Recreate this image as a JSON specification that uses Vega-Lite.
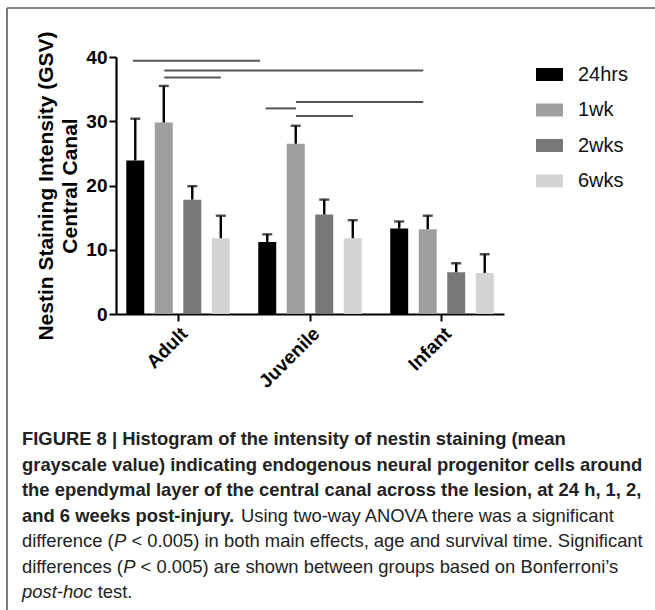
{
  "$schema": "https://vega.github.io/schema/vega-lite/v6.json",
  "width": 388,
  "height": 257,
  "autosize": {"type": "none"},
  "padding": {"left": 116, "top": 57, "right": 151, "bottom": 296},
  "background": "white",
  "config": {"font": "Liberation Sans", "view": {"stroke": null}, "axis": {"grid": false}},
  "datasets": {
    "frame": [{"edge": "frame"}],
    "bars": [
      {"age": "Adult", "time": "24hrs", "mean": 23.9, "upper": 30.4},
      {"age": "Adult", "time": "1wk", "mean": 29.8, "upper": 35.5},
      {"age": "Adult", "time": "2wks", "mean": 17.8, "upper": 19.9},
      {"age": "Adult", "time": "6wks", "mean": 11.8, "upper": 15.3},
      {"age": "Juvenile", "time": "24hrs", "mean": 11.2, "upper": 12.4},
      {"age": "Juvenile", "time": "1wk", "mean": 26.5, "upper": 29.3},
      {"age": "Juvenile", "time": "2wks", "mean": 15.5, "upper": 17.8},
      {"age": "Juvenile", "time": "6wks", "mean": 11.8, "upper": 14.6},
      {"age": "Infant", "time": "24hrs", "mean": 13.3, "upper": 14.4},
      {"age": "Infant", "time": "1wk", "mean": 13.2, "upper": 15.3},
      {"age": "Infant", "time": "2wks", "mean": 6.5, "upper": 7.9},
      {"age": "Infant", "time": "6wks", "mean": 6.4, "upper": 9.3}
    ],
    "sig": [
      {"y": 39.4, "from": -0.342, "to": 0.621},
      {"y": 37.9, "from": -0.104, "to": 1.858},
      {"y": 36.8, "from": -0.104, "to": 0.324},
      {"y": 32.0, "from": 0.664, "to": 0.894},
      {"y": 33.0, "from": 0.894, "to": 1.858},
      {"y": 30.8, "from": 0.894, "to": 1.326}
    ],
    "caption": [
      {"line": 1, "part": "bold", "text": "FIGURE 8 | Histogram of the intensity of nestin staining (mean"},
      {"line": 2, "part": "bold", "text": "grayscale value) indicating endogenous neural progenitor cells around"},
      {"line": 3, "part": "bold", "text": "the ependymal layer of the central canal across the lesion, at 24 h, 1, 2,"},
      {"line": 4, "part": "bold", "text": "and 6 weeks post-injury."},
      {"line": 4, "part": "reg4", "text": "Using two-way ANOVA there was a significant"},
      {"line": 5, "part": "reg0", "text": "difference ("},
      {"line": 5, "part": "p5", "text": "P"},
      {"line": 5, "part": "rest5", "text": "< 0.005) in both main effects, age and survival time. Significant"},
      {"line": 6, "part": "reg0", "text": "differences ("},
      {"line": 6, "part": "p6", "text": "P"},
      {"line": 6, "part": "rest6", "text": "< 0.005) are shown between groups based on Bonferroni’s"},
      {"line": 7, "part": "ital0", "text": "post-hoc"},
      {"line": 7, "part": "test7", "text": "test."}
    ]
  },
  "layer": [
    {
      "data": {"name": "frame"},
      "mark": {"type": "rule", "color": "#5a5a5a", "strokeWidth": 1.6},
      "encoding": {"x": {"value": -109}, "x2": {"value": 539}, "y": {"value": -49}}
    },
    {
      "data": {"name": "frame"},
      "mark": {"type": "rule", "color": "#5a5a5a", "strokeWidth": 1.6},
      "encoding": {"x": {"value": -109}, "y": {"value": -49}, "y2": {"value": 553}}
    },
    {
      "data": {"name": "bars"},
      "encoding": {
        "x": {
          "field": "age", "type": "nominal", "sort": ["Adult", "Juvenile", "Infant"],
          "scale": {"paddingInner": 0.216, "paddingOuter": 0.078},
          "axis": {
            "title": null, "labelAngle": -45, "labelAlign": "right", "labelBaseline": "top",
            "labelFontSize": 19, "labelFontWeight": "bold", "labelColor": "black", "labelPadding": 3,
            "tickSize": 7, "tickWidth": 2, "tickColor": "black", "domainColor": "black", "domainWidth": 2.2
          }
        },
        "xOffset": {
          "field": "time", "type": "nominal", "sort": ["24hrs", "1wk", "2wks", "6wks"],
          "scale": {"paddingInner": 0.37, "paddingOuter": 0}
        }
      },
      "layer": [
        {
          "mark": {"type": "bar"},
          "encoding": {
            "y": {
              "field": "mean", "type": "quantitative", "title": ["Nestin Staining Intensity (GSV)", "Central Canal"],
              "scale": {"domain": [0, 40]},
              "axis": {
                "values": [0, 10, 20, 30, 40],
                "titleFontSize": 21, "titleFontWeight": "bold", "titleColor": "black", "titleLineHeight": 24, "titlePadding": 5,
                "labelFontSize": 19, "labelFontWeight": "bold", "labelColor": "black", "labelPadding": 2,
                "tickSize": 7, "tickWidth": 2, "tickColor": "black", "domainColor": "black", "domainWidth": 2.2
              }
            },
            "color": {
              "field": "time", "type": "nominal", "sort": ["24hrs", "1wk", "2wks", "6wks"],
              "scale": {"domain": ["24hrs", "1wk", "2wks", "6wks"], "range": ["#000000", "#9e9e9e", "#787878", "#d3d3d3"]},
              "legend": {
                "title": null, "orient": "none", "legendX": 420, "legendY": 4, "padding": 0,
                "symbolType": "M-1,-0.48H1V0.48H-1Z", "symbolSize": 729, "symbolStrokeWidth": 0, "symbolOpacity": 1,
                "labelFontSize": 20, "labelFont": "Liberation Sans", "labelColor": "#111", "labelOffset": 15, "rowPadding": 11.5
              }
            }
          }
        },
        {
          "mark": {"type": "rule", "color": "black", "strokeWidth": 2.4},
          "encoding": {
            "y": {"field": "mean", "type": "quantitative", "title": ["Nestin Staining Intensity (GSV)", "Central Canal"]},
            "y2": {"field": "upper"}
          }
        },
        {
          "mark": {"type": "tick", "color": "black", "thickness": 2.4, "size": 10, "orient": "horizontal"},
          "encoding": {
            "y": {"field": "upper", "type": "quantitative", "title": ["Nestin Staining Intensity (GSV)", "Central Canal"]}
          }
        }
      ]
    },
    {
      "data": {"name": "sig"},
      "mark": {"type": "rule", "color": "#555555", "strokeWidth": 2},
      "encoding": {
        "x": {"field": "from", "type": "quantitative", "scale": {"domain": [-0.4697, 2.4697], "nice": false, "zero": false}, "axis": null},
        "x2": {"field": "to"},
        "y": {"field": "y", "type": "quantitative", "scale": {"domain": [0, 40]}, "axis": null}
      }
    },
    {
      "data": {"name": "caption"},
      "encoding": {
        "x": {"value": -94},
        "y": {"field": "line", "type": "quantitative", "scale": {"domain": [1, 7], "range": [382, 535], "zero": false, "nice": false}, "axis": null},
        "text": {"field": "text"}
      },
      "layer": [
        {"transform": [{"filter": "datum.part === 'bold'"}], "mark": {"type": "text", "align": "left", "baseline": "middle", "fontSize": 18.4, "fontWeight": "bold", "color": "#222222"}},
        {"transform": [{"filter": "datum.part === 'reg4'"}], "mark": {"type": "text", "align": "left", "baseline": "middle", "fontSize": 18.4, "color": "#222222", "dx": 219}},
        {"transform": [{"filter": "datum.part === 'reg0'"}], "mark": {"type": "text", "align": "left", "baseline": "middle", "fontSize": 18.4, "color": "#222222"}},
        {"transform": [{"filter": "datum.part === 'p5'"}], "mark": {"type": "text", "align": "left", "baseline": "middle", "fontSize": 18.4, "fontStyle": "italic", "color": "#222222", "dx": 92}},
        {"transform": [{"filter": "datum.part === 'rest5'"}], "mark": {"type": "text", "align": "left", "baseline": "middle", "fontSize": 18.4, "color": "#222222", "dx": 109.4}},
        {"transform": [{"filter": "datum.part === 'p6'"}], "mark": {"type": "text", "align": "left", "baseline": "middle", "fontSize": 18.4, "fontStyle": "italic", "color": "#222222", "dx": 101.2}},
        {"transform": [{"filter": "datum.part === 'rest6'"}], "mark": {"type": "text", "align": "left", "baseline": "middle", "fontSize": 18.4, "color": "#222222", "dx": 118.6}},
        {"transform": [{"filter": "datum.part === 'ital0'"}], "mark": {"type": "text", "align": "left", "baseline": "middle", "fontSize": 18.4, "fontStyle": "italic", "color": "#222222"}},
        {"transform": [{"filter": "datum.part === 'test7'"}], "mark": {"type": "text", "align": "left", "baseline": "middle", "fontSize": 18.4, "color": "#222222", "dx": 75.7}}
      ]
    }
  ],
  "resolve": {"scale": {"x": "independent", "y": "independent"}}
}
